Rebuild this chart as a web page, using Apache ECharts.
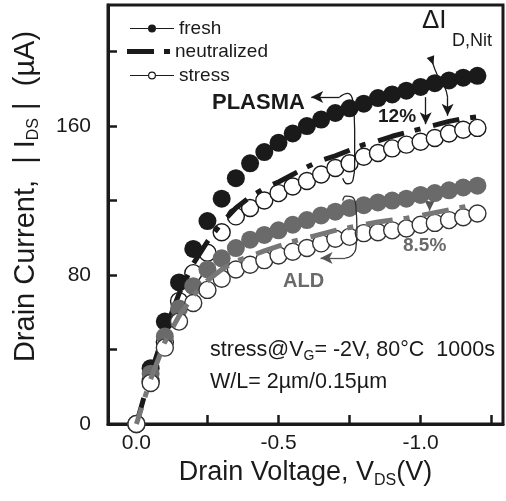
<!DOCTYPE html>
<html><head><meta charset="utf-8">
<script src="https://cdn.jsdelivr.net/npm/echarts@6/dist/echarts.min.js"></script>
<style>html,body{margin:0;padding:0;background:#fff}#c{width:506px;height:501px}</style>
</head><body><div id="c"></div>
<script>
// ---- data ----
const voltage = [0.00,-0.05,-0.10,-0.15,-0.20,-0.25,-0.30,-0.35,-0.40,-0.45,-0.50,-0.55,-0.60,-0.65,-0.70,-0.75,-0.80,-0.85,-0.90,-0.95,-1.00,-1.05,-1.10,-1.15,-1.20];
const plasmaFresh   = [0,30,55,76,94,109,121,132,140,146,151,156,160,163.5,167,169.5,172,175,177,179,181,183,184.5,186,187];
const plasmaNeutral = [0,27,50,70,86,98,108,116,122,126.5,130,134,138,141.5,144,147,150,152,154.5,156.5,158.5,160.5,162.5,164,165];
const plasmaStress  = [0,23,44,66,81,92,103,111.5,116,120,124,127.5,130.5,134,137.5,140,143.5,145.5,148,150,151.6,153.6,156,158,159];
const aldFresh      = [0,27,47,62,74,83,89,94.5,99,101.5,104,107,109.5,112,114,116,117.5,119,120,121,123,124,125.5,127,128];
const aldNeutral    = [0,24,44,58,69,77,83,87.5,90,93,95.5,98,100,102,104,105.5,107,108.5,109.5,110.5,112,113.5,115,116.5,118];
const aldStress     = [0,22,41,55,65,72,78,83,85.5,88,90.5,92.5,94.5,97,99.5,100.5,102.5,103,104,105,107,108,109.5,111,113];

const xLabelValues = [0, -0.5, -1.0];
const xTickValues  = [0, -0.25, -0.5, -0.75, -1.0, -1.25];
const yLabelValues = [0, 80, 160];
const yTickValues  = [0, 40, 80, 120, 160, 200];

// annotation geometry (data coordinates)
const plasmaArrow   = [[-0.715,175.6],[-0.615,175.6]];
const plasmaBracket = [[-0.715,175.6],[-0.743,177.5],[-0.762,173],[-0.768,158],[-0.768,139],[-0.762,131],[-0.742,129],[-0.726,132]];
const aldArrow      = [[-0.735,89.1],[-0.648,89.1]];
const aldBracket    = [[-0.735,89.1],[-0.758,90.5],[-0.772,94],[-0.776,104],[-0.772,117.6],[-0.758,122],[-0.737,122.4],[-0.726,120]];
const deltaArrow1   = [[-1.018,175.5],[-1.018,161]];
const deltaPointer  = [[-1.040,195],[-1.060,187],[-1.085,181],[-1.095,175.5]];
const deltaArrow2   = [[-1.095,175.5],[-1.095,165.5]];
const aldSmallArrow = [[-1.032,119.5],[-1.032,114.5]];

const FONT = 'Liberation Sans';
const INK = '#1a1a1a';
const GREY = '#6a6a6a';

function pairs(ys){ return voltage.map((v,i)=>[v, ys[i]]); }

const chart = echarts.init(document.getElementById('c'), null, {renderer:'canvas'});

const neutralDash = [27, 11, 6, 13];

const series = [
  {name:'fresh', type:'scatter', data:pairs(plasmaFresh), symbol:'circle', symbolSize:18,
   itemStyle:{color:INK, borderWidth:0, opacity:1}, z:2},
  {name:'stress', type:'scatter', data:pairs(plasmaStress), symbol:'circle', symbolSize:17,
   itemStyle:{color:'#fff', borderColor:INK, borderWidth:1.4, opacity:1}, z:3},
  {name:'neutralized', type:'line', data:pairs(plasmaNeutral), showSymbol:false, symbol:'none',
   lineStyle:{color:INK, width:5, type:neutralDash, cap:'butt'}, z:4},
  {name:'ALD fresh', type:'scatter', data:pairs(aldFresh), symbol:'circle', symbolSize:18,
   itemStyle:{color:GREY, borderWidth:0, opacity:1}, z:5},
  {name:'ALD stress', type:'scatter', data:pairs(aldStress), symbol:'circle', symbolSize:17,
   itemStyle:{color:'#fff', borderColor:'#333', borderWidth:1.4, opacity:1}, z:6},
  {name:'ALD neutralized', type:'line', data:pairs(aldNeutral), showSymbol:false, symbol:'none',
   lineStyle:{color:'#777', width:5, type:neutralDash, cap:'butt', dashOffset:10}, z:7},
  {name:'plasmaNote', type:'line', data:plasmaBracket, smooth:0.5, symbol:'none', silent:true,
   lineStyle:{color:INK, width:1.3}, z:8,
   markLine:{silent:true, symbol:['none','arrow'], symbolSize:[9,12], label:{show:false},
     lineStyle:{color:INK, width:1.3, type:'solid'},
     data:[[{coord:plasmaArrow[0]},{coord:plasmaArrow[1]}],
           [{coord:deltaArrow1[0]},{coord:deltaArrow1[1]}],
           [{coord:deltaArrow2[0]},{coord:deltaArrow2[1]}]]}},
  {name:'aldNote', type:'line', data:aldBracket, smooth:0.5, symbol:'none', silent:true,
   lineStyle:{color:'#333', width:1.3}, z:8,
   markLine:{silent:true, symbol:['none','arrow'], symbolSize:[9,12], label:{show:false},
     lineStyle:{color:'#555', width:1.3, type:'solid'},
     data:[[{coord:aldArrow[0]},{coord:aldArrow[1]}],
           [{coord:aldSmallArrow[0]},{coord:aldSmallArrow[1]}]]}},
  {name:'deltaNote', type:'line', data:deltaPointer, smooth:0.4, symbol:'none', silent:true,
   lineStyle:{color:INK, width:1.3}, z:8,
   markPoint:{silent:true, symbol:'triangle', symbolSize:[8,9], symbolRotate:200, itemStyle:{color:INK},
     label:{show:false}, data:[{coord:deltaPointer[0]}]}}
];

const legendText = {fontFamily:FONT, fontSize:19, color:INK};
const option = {
  animation:false,
  backgroundColor:'#fff',
  textStyle:{fontFamily:FONT},
  grid:{left:108, right:3, top:5, bottom:77, show:true, borderColor:INK, borderWidth:3, containLabel:false},
  legend:[
    {data:[{name:'fresh', icon:'path://M0,3.5H18V4.5H0Z M26,3.5H44V4.5H26Z M22,0A4,4 0 1,1 22,8A4,4 0 1,1 22,0Z',
       itemStyle:{color:INK, borderWidth:0}}],
     left:130, top:19, padding:0, itemWidth:44, itemHeight:8, textStyle:legendText, selectedMode:false},
    {data:[{name:'neutralized', icon:'path://M0,0H27V5H0Z M37,0H43V5H37Z', itemStyle:{color:INK, borderWidth:0}}],
     left:127, top:42, padding:0, itemWidth:43, itemHeight:5, itemGap:0, textStyle:legendText, selectedMode:false},
    {data:[{name:'stress', icon:'path://M0,3.5H18V4.5H0Z M26,3.5H44V4.5H26Z M22,0A4,4 0 1,1 22,8A4,4 0 1,1 22,0Z M22,1.2A2.8,2.8 0 1,0 22,6.8A2.8,2.8 0 1,0 22,1.2Z',
       itemStyle:{color:INK, borderWidth:0}}],
     left:130, top:66, padding:0, itemWidth:44, itemHeight:8, textStyle:legendText, selectedMode:false}
  ],
  xAxis:{
    type:'value', inverse:true, min:-1.29, max:0.1,
    name:'Drain Voltage, V{sub|DS}(V)', nameLocation:'middle', nameGap:33,
    nameTextStyle:{fontFamily:FONT, fontSize:27, color:INK, rich:{sub:{fontFamily:FONT, fontSize:16, color:INK, padding:[16,0,0,0]}}},
    axisLine:{show:true, onZero:false, lineStyle:{color:INK, width:3}},
    axisTick:{show:true, inside:true, length:9, lineStyle:{color:INK, width:2.5}, customValues:xTickValues},
    axisLabel:{show:true, margin:9, fontFamily:FONT, fontSize:21, color:INK, customValues:xLabelValues,
      formatter:v=>v.toFixed(1)},
    splitLine:{show:false}
  },
  yAxis:{
    type:'value', min:0, max:225,
    name:'Drain Current,  | I{sub|DS} |  (µA)', nameLocation:'middle', nameGap:66, nameRotate:90,
    nameTextStyle:{fontFamily:FONT, fontSize:29, color:INK, padding:[0,0,0,36],
      rich:{sub:{fontFamily:FONT, fontSize:16, color:INK, padding:[16,0,0,0]}}},
    axisLine:{show:true, onZero:false, lineStyle:{color:INK, width:3}},
    axisTick:{show:true, inside:true, length:9, lineStyle:{color:INK, width:2.5}, customValues:yTickValues},
    axisLabel:{show:true, margin:17, fontFamily:FONT, fontSize:21, color:INK, customValues:yLabelValues},
    splitLine:{show:false}
  },
  series:series,
  graphic:[
    {type:'text', left:212, top:92, style:{text:'PLASMA', fontFamily:FONT, fontWeight:'bold', fontSize:22, fill:INK}},
    {type:'text', left:378, top:107, style:{text:'12%', fontFamily:FONT, fontWeight:'bold', fontSize:19, fill:INK}},
    {type:'text', left:403, top:236, style:{text:'8.5%', fontFamily:FONT, fontWeight:'bold', fontSize:19, fill:GREY}},
    {type:'text', left:283, top:271, style:{text:'ALD', fontFamily:FONT, fontWeight:'bold', fontSize:20, fill:GREY}},
    {type:'text', left:422, top:8, style:{text:'ΔI', fontFamily:FONT, fontSize:26, fill:INK}},
    {type:'text', left:452, top:32, style:{text:'D,Nit', fontFamily:FONT, fontSize:18, fill:INK}},
    {type:'text', left:210, top:339, style:{text:'stress@V{sub|G}= -2V, 80°C  1000s', fontFamily:FONT, fontSize:21.5, fill:INK,
      rich:{sub:{fontFamily:FONT, fontSize:14, fill:INK, padding:[13,0,0,0]}}}},
    {type:'text', left:210, top:371, style:{text:'W/L= 2µm/0.15µm', fontFamily:FONT, fontSize:21.5, fill:INK}}
  ]
};
chart.setOption(option);
</script>
</body></html>
